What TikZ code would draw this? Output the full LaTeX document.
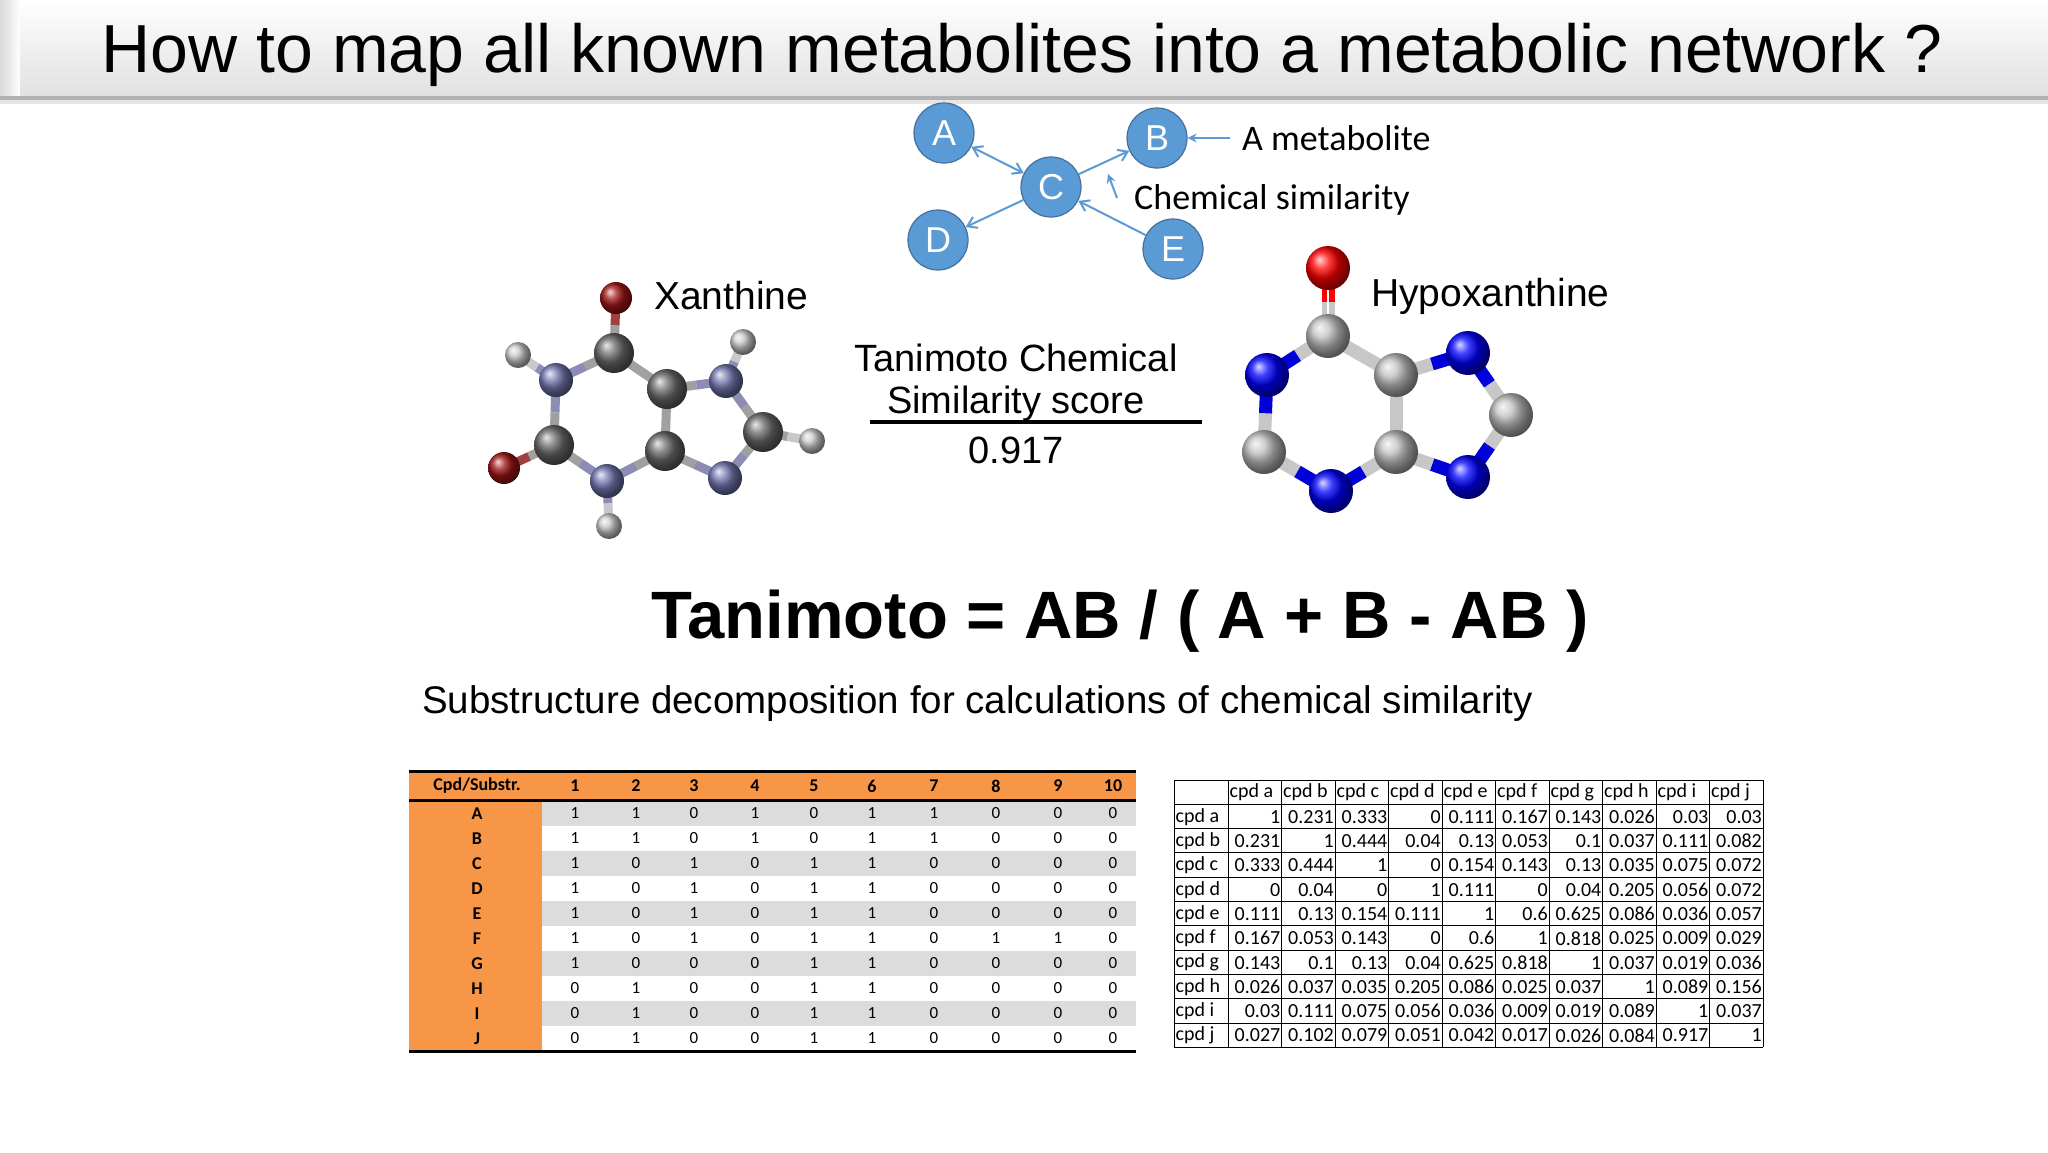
\documentclass[tikz,border=0pt]{standalone}
\usepackage{fontspec}
\setmainfont{Liberation Sans}
\newfontfamily\calfont{Carlito}
\usetikzlibrary{arrows.meta,calc}
\definecolor{nodeblue}{HTML}{5B9BD5}
\definecolor{nodeedge}{HTML}{41719C}
\definecolor{tblorange}{HTML}{F79646}
\definecolor{tblgray}{HTML}{DCDCDC}
\definecolor{xN}{HTML}{7476B0}
\definecolor{xC}{HTML}{6A6A6A}
\definecolor{xO}{HTML}{A01515}
\definecolor{xH}{HTML}{C8C8C8}
\definecolor{bondgray}{HTML}{A0A0A0}
\definecolor{bondxN}{HTML}{8C8CB4}
\definecolor{bondxO}{HTML}{A04040}
\tikzset{
  met/.style={circle,fill=nodeblue,draw=nodeedge,line width=1.2pt,minimum size=60pt,inner sep=0pt,text=white,font=\fontsize{36}{40}\selectfont},
  netedge/.style={draw=nodeblue,line width=2pt},
  lbl/.style={font=\fontsize{36}{42}\selectfont,anchor=west,inner sep=0pt},
  molname/.style={font=\fontsize{39}{46}\selectfont,anchor=west,inner sep=0pt},
  atom/.style={circle,inner sep=0pt,shading=ball},
  lcell/.style={font=\calfont\fontsize{17}{20}\selectfont,inner sep=0pt},
  rcell/.style={font=\calfont\fontsize{20}{22}\selectfont,inner sep=0pt},
}
\newcommand{\bondhalf}[5]{\draw[line width=#5,#3] (#1) -- ($(#1)!0.5!(#2)$); \draw[line width=#5,#4] ($(#1)!0.5!(#2)$) -- (#2);}
\begin{document}
\begin{tikzpicture}[x=1pt,y=-1pt]
\useasboundingbox (0,0) rectangle (2048,1152);
\fill[white] (0,0) rectangle (2048,1152);
% title bar
\shade[top color=white,bottom color=black!12] (0,0) rectangle (2048,96);
\shade[left color=black!15,right color=white] (0,0) rectangle (20,96);
\fill[black!30] (0,96) rectangle (2048,100);
\fill[black!10] (0,100) rectangle (2048,104);
\node[font=\fontsize{68}{76}\selectfont] (title) at (1022,55) {How to map all known metabolites into a metabolic network ?};

% network
\node[met] (A) at (944,133) {A};
\node[met] (B) at (1157,138) {B};
\node[met] (C) at (1051,187) {C};
\node[met] (D) at (938,240) {D};
\node[met] (E) at (1173,249) {E};
\draw[netedge,{Straight Barb[length=9pt,width=12pt,line width=2pt]}-{Straight Barb[length=9pt,width=12pt,line width=2pt]}] (A) -- (C);
\draw[netedge,-{Straight Barb[length=9pt,width=12pt,line width=2pt]}] (C) -- (B);
\draw[netedge,-{Straight Barb[length=9pt,width=12pt,line width=2pt]}] (C) -- (D);
\draw[netedge,-{Straight Barb[length=9pt,width=12pt,line width=2pt]}] (E) -- (C);
\node[lbl,font=\calfont\fontsize{36}{42}\selectfont] (metlbl) at (1242,138) {A metabolite};
\draw[netedge,-{Stealth[length=9pt,width=9pt]}] (metlbl.west) ++(-12,0) coordinate (mt) -- (B);
\node[lbl,font=\calfont\fontsize{36}{42}\selectfont] (simlbl) at (1134,200) {Chemical similarity};
\coordinate (sa) at (1117,198);
\coordinate (sb) at (1108,174);
\draw[netedge,-{Stealth[length=9pt,width=9pt]}] (sa) -- (sb);

% Xanthine
\coordinate (xO1) at (616,298);
\coordinate (xC6) at (614,353);
\coordinate (xH1) at (518,355);
\coordinate (xN1) at (556,380);
\coordinate (xC2) at (554,445);
\coordinate (xO2) at (504,468);
\coordinate (xN3) at (607,481);
\coordinate (xH3) at (609,526);
\coordinate (xC5) at (667,389);
\coordinate (xC4) at (665,451);
\coordinate (xN7) at (726,381);
\coordinate (xH7) at (743,342);
\coordinate (xC8) at (763,432);
\coordinate (xH8) at (812,441);
\coordinate (xN9) at (725,478);
\bondhalf{xO1}{xC6}{bondxO}{bondgray}{9pt}
\bondhalf{xC6}{xN1}{bondgray}{bondxN}{9pt}
\bondhalf{xN1}{xH1}{bondxN}{xH}{9pt}
\bondhalf{xN1}{xC2}{bondxN}{bondgray}{9pt}
\bondhalf{xC2}{xO2}{bondgray}{bondxO}{9pt}
\bondhalf{xC2}{xN3}{bondgray}{bondxN}{9pt}
\bondhalf{xN3}{xH3}{bondxN}{xH}{9pt}
\bondhalf{xN3}{xC4}{bondxN}{bondgray}{9pt}
\bondhalf{xC4}{xC5}{bondgray}{bondgray}{9pt}
\bondhalf{xC5}{xC6}{bondgray}{bondgray}{9pt}
\bondhalf{xC5}{xN7}{bondgray}{bondxN}{9pt}
\bondhalf{xN7}{xH7}{bondxN}{xH}{9pt}
\bondhalf{xN7}{xC8}{bondxN}{bondgray}{9pt}
\bondhalf{xC8}{xH8}{bondgray}{xH}{9pt}
\bondhalf{xC8}{xN9}{bondgray}{bondxN}{9pt}
\bondhalf{xN9}{xC4}{bondxN}{bondgray}{9pt}
\foreach \n/\c/\s in {xO1/xO/32,xO2/xO/32,xH1/xH/26,xH3/xH/26,xH7/xH/26,xH8/xH/26,xN1/xN/34,xN3/xN/34,xN7/xN/34,xN9/xN/34,xC6/xC/40,xC2/xC/40,xC5/xC/40,xC4/xC/40,xC8/xC/40}
  \node[atom,ball color=\c,minimum size=\s pt] (a\n) at (\n) {};
\node[molname] (xname) at (654,296) {Xanthine};

% Hypoxanthine
\coordinate (hO) at (1328,268);
\coordinate (hC6) at (1328,336);
\coordinate (hN1) at (1267,375);
\coordinate (hC2) at (1264,452);
\coordinate (hN3) at (1331,491);
\coordinate (hC4) at (1396,452);
\coordinate (hC5) at (1396,375);
\coordinate (hN7) at (1468,353);
\coordinate (hC8) at (1511,415);
\coordinate (hN9) at (1468,477);
\bondhalf{hO}{hC6}{red}{black!22}{13pt}
\bondhalf{hC6}{hN1}{black!22}{blue!85!black}{13pt}
\bondhalf{hN1}{hC2}{blue!85!black}{black!22}{13pt}
\bondhalf{hC2}{hN3}{black!22}{blue!85!black}{13pt}
\bondhalf{hN3}{hC4}{blue!85!black}{black!22}{13pt}
\bondhalf{hC4}{hC5}{black!22}{black!22}{13pt}
\bondhalf{hC5}{hC6}{black!22}{black!22}{13pt}
\bondhalf{hC5}{hN7}{black!22}{blue!85!black}{13pt}
\bondhalf{hN7}{hC8}{blue!85!black}{black!22}{13pt}
\bondhalf{hC8}{hN9}{black!22}{blue!85!black}{13pt}
\bondhalf{hN9}{hC4}{blue!85!black}{black!22}{13pt}
\draw[white,line width=2pt] ($(hO)!0.3!(hC6)$) -- ($(hO)!0.7!(hC6)$);
\foreach \n/\c in {hO/red,hN1/blue,hN3/blue,hN7/blue,hN9/blue,hC6/black!25,hC2/black!25,hC4/black!25,hC5/black!25,hC8/black!25}
  \node[atom,ball color=\c,minimum size=44pt] (a\n) at (\n) {};
\node[molname] (hname) at (1371,296) {Hypoxanthine};

% score
\node[font=\fontsize{38}{46}\selectfont] (s1) at (1016,358) {Tanimoto Chemical};
\node[font=\fontsize{38}{46}\selectfont] (s2) at (1016,404) {Similarity score};
\coordinate (ul) at (870,422);
\coordinate (ur) at (1202,422);
\draw[line width=3.5pt] (ul) -- (ur);
\node[font=\fontsize{38}{46}\selectfont] (s3) at (1016,450) {0.917};

% formula
\node[font=\bfseries\fontsize{67}{76}\selectfont] (formula) at (1120,621) {Tanimoto = AB / ( A + B - AB )};
\node[font=\fontsize{38.5}{44}\selectfont,anchor=west,inner sep=0pt] (sub) at (422,704) {Substructure decomposition for calculations of chemical similarity};

% left table
\fill[tblorange] (409,771) rectangle (1136,800);
\fill[tblorange] (409,800) rectangle (542,1051);
\foreach \r in {0,2,4,6,8} \fill[tblgray] (542,{801+25*\r}) rectangle (1136,{826+25*\r});
\draw[line width=3pt] (409,771) -- (1136,771);
\draw[line width=3pt] (409,800) -- (1136,800);
\draw[line width=3pt] (409,1051) -- (1136,1051);
\node[lcell,font=\calfont\bfseries\fontsize{18}{20}\selectfont] (lh0) at (477,786) {Cpd/Substr.};
\foreach \x [count=\c] in {575,636,694,755,814,872,934,996,1058,1113}
  \node[lcell,font=\calfont\bfseries\fontsize{18}{20}\selectfont] (lh\c) at (\x,786) {\c};
\foreach \lab/\vals [count=\r] in {A/{1,1,0,1,0,1,1,0,0,0},B/{1,1,0,1,0,1,1,0,0,0},C/{1,0,1,0,1,1,0,0,0,0},D/{1,0,1,0,1,1,0,0,0,0},E/{1,0,1,0,1,1,0,0,0,0},F/{1,0,1,0,1,1,0,1,1,0},G/{1,0,0,0,1,1,0,0,0,0},H/{0,1,0,0,1,1,0,0,0,0},I/{0,1,0,0,1,1,0,0,0,0},J/{0,1,0,0,1,1,0,0,0,0}} {
  \node[lcell,font=\calfont\bfseries\fontsize{18}{20}\selectfont] (lr\r) at (477,{788.5+25*\r}) {\lab};
  \foreach \v [count=\c] in \vals {
    \pgfmathsetmacro{\xx}{{575,636,694,755,814,872,934,996,1058,1113}[\c-1]}
    \node[lcell] (lc\r-\c) at (\xx,{788.5+25*\r}) {\v};
  }
}

% right table
\foreach \i in {0,...,11} \draw[line width=1pt] (1174,{780+24.3*\i}) -- (1763,{780+24.3*\i});
\draw[line width=1pt] (1174,780) -- (1174,1047.3);
\foreach \i in {0,...,10} \draw[line width=1pt] ({1228+53.5*\i},780) -- ({1228+53.5*\i},1047.3);
\foreach \h [count=\c] in {a,b,c,d,e,f,g,h,i,j} {
  \node[rcell,anchor=west] (rh\c) at ({1228+53.5*(\c-1)+1.5},792.5) {cpd \h};
  \node[rcell,anchor=west] (rl\c) at (1175.5,{792.5+24.3*\c}) {cpd \h};
}
\foreach \vals [count=\r] in {
{1,0.231,0.333,0,0.111,0.167,0.143,0.026,0.03,0.03},
{0.231,1,0.444,0.04,0.13,0.053,0.1,0.037,0.111,0.082},
{0.333,0.444,1,0,0.154,0.143,0.13,0.035,0.075,0.072},
{0,0.04,0,1,0.111,0,0.04,0.205,0.056,0.072},
{0.111,0.13,0.154,0.111,1,0.6,0.625,0.086,0.036,0.057},
{0.167,0.053,0.143,0,0.6,1,0.818,0.025,0.009,0.029},
{0.143,0.1,0.13,0.04,0.625,0.818,1,0.037,0.019,0.036},
{0.026,0.037,0.035,0.205,0.086,0.025,0.037,1,0.089,0.156},
{0.03,0.111,0.075,0.056,0.036,0.009,0.019,0.089,1,0.037},
{0.027,0.102,0.079,0.051,0.042,0.017,0.026,0.084,0.917,1}} {
  \foreach \v [count=\c] in \vals
    \node[rcell,anchor=east] (rc\r-\c) at ({1228+53.5*\c-1},{792.5+24.3*\r}) {\v};
}
\end{tikzpicture}
\end{document}
